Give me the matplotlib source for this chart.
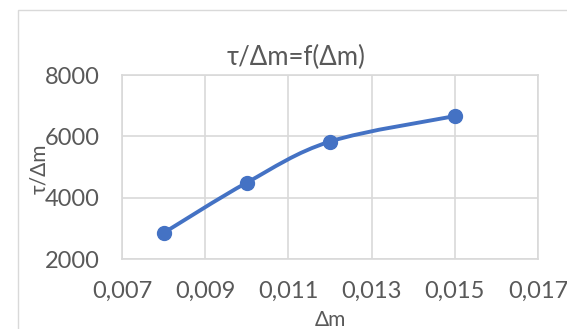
import numpy as np
import matplotlib
matplotlib.use("Agg")
import matplotlib.pyplot as plt
from matplotlib.path import Path
from matplotlib.patches import PathPatch, Rectangle

# measured points
dm = [0.008, 0.010, 0.012, 0.015]
tau_dm = [2850, 4490, 5830, 6660]

x_ticks = [0.007, 0.009, 0.011, 0.013, 0.015, 0.017]
x_labels = ["0,007", "0,009", "0,011", "0,013", "0,015", "0,017"]
y_ticks = [2000, 4000, 6000, 8000]

FONT = ["Lato", "Noto Sans", "DejaVu Sans"]
TXT = "#595959"
GRID = "#d9d9d9"
BLUE = "#4472c4"

plt.rcParams["font.family"] = FONT


def smooth_path(xs, ys):
    # bezier segments with neighbour-based control points (spreadsheet style smoothing)
    pts = np.column_stack([xs, ys]).astype(float)
    n = len(pts)
    verts = [pts[0]]
    codes = [Path.MOVETO]
    for i in range(n - 1):
        p0 = pts[i - 1] if i > 0 else pts[i]
        p1 = pts[i]
        p2 = pts[i + 1]
        p3 = pts[i + 2] if i + 2 < n else pts[i + 1]
        c1 = p1 + (p2 - p0) / 6.0
        c2 = p2 - (p3 - p1) / 6.0
        verts += [c1, c2, p2]
        codes += [Path.CURVE4] * 3
    return Path(verts, codes)


W, H = 567, 329
fig = plt.figure(figsize=(W / 100, H / 100), dpi=100)

# chart frame
fig.patches.append(Rectangle((18 / W, -0.1), 1.2, 1 - 10 / H + 0.1,
                             transform=fig.transFigure, fill=False,
                             edgecolor=GRID, linewidth=1))

left, right, top, bottom = 122, 538, 75, 259
ax = fig.add_axes([left / W, 1 - bottom / H, (right - left) / W, (bottom - top) / H])

ax.add_patch(PathPatch(smooth_path(dm, tau_dm), facecolor="none",
                       edgecolor=BLUE, linewidth=2.8, zorder=3))
ax.plot(dm, tau_dm, linestyle="none", marker="o", markersize=10,
        color=BLUE, zorder=4)

ax.set_xlim(0.007, 0.017)
ax.set_ylim(2000, 8000)
ax.set_xticks(x_ticks)
ax.set_xticklabels(x_labels)
ax.set_yticks(y_ticks)
ax.grid(True, color=GRID, linewidth=1.2)
ax.set_axisbelow(True)
for s in ax.spines.values():
    s.set_color(GRID)
    s.set_linewidth(1.2)
ax.tick_params(length=0, labelsize=17, labelcolor=TXT)
ax.tick_params(axis="x", pad=16)
ax.tick_params(axis="y", pad=16)

ax.set_xlabel("Δm", fontsize=15, color=TXT, va="center")
ax.xaxis.set_label_coords(0.5, -0.33)
ax.set_ylabel("τ/Δm", fontsize=15, color=TXT, va="center")
ax.yaxis.set_label_coords(-0.2, 0.49)
fig.text(296 / W, 1 - 57 / H, "τ/Δm=f(Δm)", ha="center",
         va="center", fontsize=18.5, color=TXT)

fig.savefig("out.png", dpi=100)
